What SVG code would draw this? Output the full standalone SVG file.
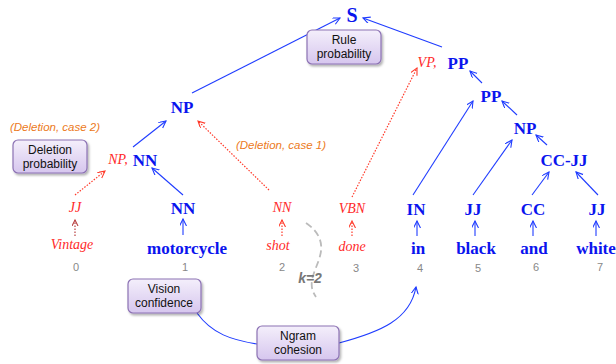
<svg xmlns="http://www.w3.org/2000/svg" width="616" height="364" viewBox="0 0 616 364">
<style>
.tb{font-family:"Liberation Serif",serif;font-weight:bold;font-size:17px;fill:#0a14ee;text-anchor:middle}
.tr{font-family:"Liberation Serif",serif;font-style:italic;font-size:14px;fill:#ff2a2a;text-anchor:middle}
.idx{font-family:"Liberation Sans",sans-serif;font-size:11px;fill:#888;text-anchor:middle}
.or{font-family:"Liberation Sans",sans-serif;font-style:italic;font-size:11.5px;fill:#ec7a22;text-anchor:middle}
.bx{fill:url(#g);stroke:#8c72b4;stroke-width:1.2}
.bt{font-family:"Liberation Sans",sans-serif;font-size:12px;fill:#111;text-anchor:middle}
.bl{stroke:#1f3cff;stroke-width:1.1;fill:none}
.rd{stroke:#ff3a2a;stroke-width:1.2;fill:none;stroke-dasharray:1.5 1.5}
</style>
<defs>
<linearGradient id="g" x1="0" y1="0" x2="0" y2="1">
<stop offset="0" stop-color="#f4effb"/>
<stop offset="1" stop-color="#d6c6ee"/>
</linearGradient>
<filter id="sh" x="-20%" y="-20%" width="150%" height="160%">
<feDropShadow dx="1.5" dy="2" stdDeviation="1.2" flood-color="#000" flood-opacity="0.3"/>
</filter>
<marker id="ab" markerUnits="userSpaceOnUse" markerWidth="9" markerHeight="9" refX="7" refY="3.5" orient="auto">
<path d="M0,0 L7,3.5 L0,7" fill="none" stroke="#1f3cff" stroke-width="1.1"/>
</marker>
<marker id="ar" markerUnits="userSpaceOnUse" markerWidth="9" markerHeight="9" refX="7" refY="3.5" orient="auto">
<path d="M0,0 L7,3.5 L0,7" fill="none" stroke="#ff3a2a" stroke-width="1.1"/>
</marker>
<marker id="ad" markerUnits="userSpaceOnUse" markerWidth="9" markerHeight="9" refX="6" refY="3" orient="auto">
<path d="M0,0 L6,3 L0,6" fill="none" stroke="#b84040" stroke-width="1.1"/>
</marker>
</defs>

<g id="connectors">
<line class="bl" x1="192" y1="93" x2="340" y2="18" marker-end="url(#ab)"/>
<line class="bl" x1="442" y1="47" x2="363" y2="18" marker-end="url(#ab)"/>
<line class="bl" x1="482" y1="83" x2="470" y2="71" marker-end="url(#ab)"/>
<line class="bl" x1="517" y1="115" x2="502" y2="101" marker-end="url(#ab)"/>
<line class="bl" x1="547" y1="145" x2="536" y2="135" marker-end="url(#ab)"/>
<line class="bl" x1="413" y1="195" x2="473" y2="101" marker-end="url(#ab)"/>
<line class="bl" x1="473" y1="195" x2="512" y2="140" marker-end="url(#ab)"/>
<line class="bl" x1="532" y1="195" x2="549" y2="172" marker-end="url(#ab)"/>
<line class="bl" x1="598" y1="195" x2="576" y2="172" marker-end="url(#ab)"/>
<line class="bl" x1="133" y1="147" x2="166" y2="121" marker-end="url(#ab)"/>
<line class="bl" x1="183" y1="195" x2="152" y2="168" marker-end="url(#ab)"/>
<line class="rd" x1="75" y1="195" x2="105" y2="171" marker-end="url(#ar)"/>
<line class="rd" x1="269" y1="190" x2="198" y2="121" marker-end="url(#ar)"/>
<line class="rd" x1="352" y1="197" x2="417" y2="68" marker-end="url(#ar)"/>
<line class="rd" x1="75" y1="236" x2="75" y2="220" stroke="#b84040" style="stroke:#b84040" marker-end="url(#ad)"/>
<line class="rd" x1="282" y1="236" x2="282" y2="220" marker-end="url(#ar)"/>
<line class="rd" x1="352" y1="236" x2="352" y2="221" marker-end="url(#ar)"/>
<line class="bl" x1="183" y1="235" x2="183" y2="219" marker-end="url(#ab)"/>
<line class="bl" x1="417" y1="236" x2="417" y2="221" marker-end="url(#ab)"/>
<line class="bl" x1="475" y1="236" x2="475" y2="221" marker-end="url(#ab)"/>
<line class="bl" x1="533" y1="236" x2="533" y2="221" marker-end="url(#ab)"/>
<line class="bl" x1="596" y1="236" x2="596" y2="221" marker-end="url(#ab)"/>
<path class="bl" d="M197,313 C212,334 232,340 257,344"/>
<path class="bl" d="M339,343 C380,332 410,320 416,287" marker-end="url(#ab)"/>
<path d="M306,223 C318,231 324,242 320,256 C316,271 306,283 316,297" fill="none" stroke="#bbb" stroke-width="1.8" stroke-dasharray="7 4"/>
</g>

<g id="S"><text class="tb" x="352" y="22" style="font-size:20px">S</text></g>
<g id="rule-prob"><rect class="bx" x="307" y="30" width="74" height="34" rx="5" filter="url(#sh)"/><text class="bt" x="344" y="44">Rule</text><text class="bt" x="344" y="58">probability</text></g>
<g id="PP1"><text class="tr" x="427" y="67">VP,</text><text class="tb" x="458" y="69">PP</text></g>
<g id="PP2"><text class="tb" x="491" y="102">PP</text></g>
<g id="NP-right"><text class="tb" x="525" y="134">NP</text></g>
<g id="CC-JJ"><text class="tb" x="564" y="166">CC-JJ</text></g>
<g id="NP-left"><text class="tb" x="182" y="113">NP</text></g>
<g id="NN-upper"><text class="tr" x="118" y="164">NP,</text><text class="tb" x="145" y="166">NN</text></g>
<g id="del2"><text class="or" x="55" y="131">(Deletion, case 2)</text></g>
<g id="del1"><text class="or" x="281" y="149">(Deletion, case 1)</text></g>
<g id="del-prob"><rect class="bx" x="13" y="140" width="74" height="33" rx="5" filter="url(#sh)"/><text class="bt" x="50" y="154">Deletion</text><text class="bt" x="50" y="168">probability</text></g>

<g id="w0"><text class="tr" x="75" y="212">JJ</text><text class="tr" x="72" y="249">Vintage</text><text class="idx" x="76" y="271">0</text></g>
<g id="w1"><text class="tb" x="183" y="214">NN</text><text class="tb" x="187" y="254">motorcycle</text><text class="idx" x="185" y="271">1</text></g>
<g id="w2"><text class="tr" x="282" y="212">NN</text><text class="tr" x="278" y="250">shot</text><text class="idx" x="282" y="271">2</text></g>
<g id="w3"><text class="tr" x="352" y="213">VBN</text><text class="tr" x="352" y="251">done</text><text class="idx" x="356" y="272">3</text></g>
<g id="w4"><text class="tb" x="416" y="215">IN</text><text class="tb" x="418" y="254">in</text><text class="idx" x="420" y="272">4</text></g>
<g id="w5"><text class="tb" x="473" y="215">JJ</text><text class="tb" x="476" y="254">black</text><text class="idx" x="478" y="272">5</text></g>
<g id="w6"><text class="tb" x="533" y="215">CC</text><text class="tb" x="534" y="254">and</text><text class="idx" x="536" y="271">6</text></g>
<g id="w7"><text class="tb" x="597" y="215">JJ</text><text class="tb" x="596" y="254">white</text><text class="idx" x="600" y="271">7</text></g>

<g id="k2"><text x="310" y="283" style="font-family:'Liberation Sans',sans-serif;font-weight:bold;font-style:italic;font-size:14px;fill:#777;text-anchor:middle">k=2</text></g>
<g id="vision"><rect class="bx" x="128" y="279" width="73" height="34" rx="5" filter="url(#sh)"/><text class="bt" x="164" y="293">Vision</text><text class="bt" x="164" y="307">confidence</text></g>
<g id="ngram"><rect class="bx" x="257" y="326" width="82" height="34" rx="5" filter="url(#sh)"/><text class="bt" x="298" y="340">Ngram</text><text class="bt" x="298" y="354">cohesion</text></g>
</svg>
